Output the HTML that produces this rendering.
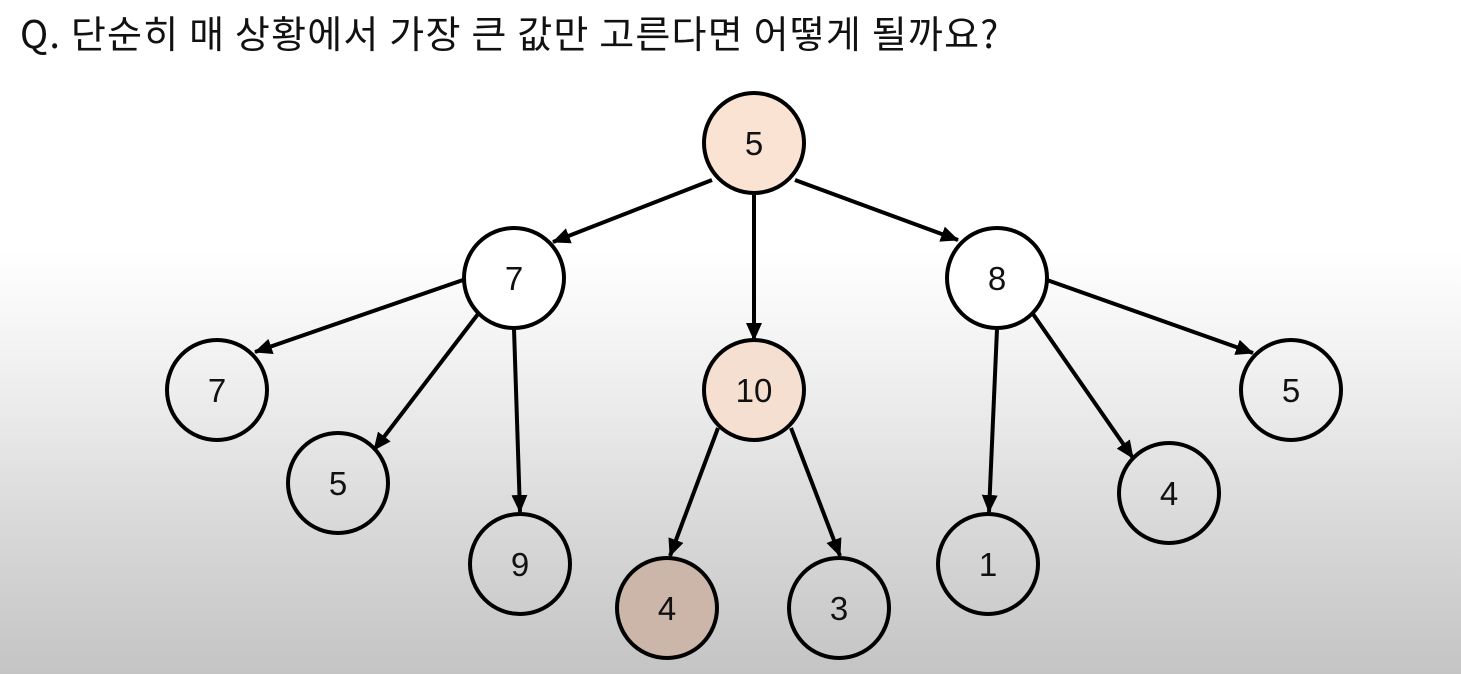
<!DOCTYPE html>
<html><head><meta charset="utf-8"><style>
html,body{margin:0;padding:0}
body{width:1461px;height:674px;overflow:hidden;background:linear-gradient(to bottom,#fff 0px,#fff 250px,#ececec 400px,#d8d8d8 530px,#c4c4c4 674px);font-family:"Liberation Sans","Noto Sans CJK KR",sans-serif}
.t{position:absolute;left:20px;top:4px;font-size:38px;color:#111;font-family:"Noto Sans CJK KR","Liberation Sans",sans-serif;letter-spacing:1.2px;white-space:nowrap}
svg{position:absolute;left:0;top:0}
</style></head><body>
<div class="t">Q. 단순히 매 상황에서 가장 큰 값만 고른다면 어떻게 될까요?</div>
<svg width="1461" height="674" viewBox="0 0 1461 674">
<defs><marker id="a" markerUnits="userSpaceOnUse" markerWidth="18" markerHeight="16" refX="17" refY="8" orient="auto"><path d="M0,0 L18,8 L0,16 z" fill="#000"/></marker></defs>
<g stroke="#000" stroke-width="4" marker-end="url(#a)">
<line x1="712" y1="180" x2="553" y2="242"/>
<line x1="754" y1="195" x2="754" y2="340"/>
<line x1="795" y1="180" x2="958" y2="240"/>
<line x1="463" y1="280" x2="255" y2="352"/>
<line x1="478" y1="314" x2="374" y2="450"/>
<line x1="514" y1="329" x2="520" y2="512"/>
<line x1="718" y1="428" x2="670" y2="556"/>
<line x1="791" y1="428" x2="840" y2="556"/>
<line x1="997" y1="329" x2="989" y2="512"/>
<line x1="1047" y1="280" x2="1253" y2="353"/>
<line x1="1033" y1="314" x2="1133" y2="458"/>
</g>
<g stroke="#000" stroke-width="4" fill="none">
<circle cx="754" cy="143" r="50" fill="#fbe3d4"/>
<circle cx="514" cy="278" r="50" fill="#fff"/>
<circle cx="754" cy="390" r="50" fill="#f5dfd1"/>
<circle cx="997" cy="278" r="50" fill="#fff"/>
<circle cx="217" cy="390" r="50"/>
<circle cx="338" cy="483" r="50"/>
<circle cx="520" cy="564" r="50"/>
<circle cx="667" cy="608" r="50" fill="#cbb6a9"/>
<circle cx="839" cy="608" r="50"/>
<circle cx="988" cy="564" r="50"/>
<circle cx="1169" cy="493" r="50"/>
<circle cx="1291" cy="390" r="50"/>
</g>
<g font-family="Liberation Sans, sans-serif" font-size="33" text-anchor="middle" fill="#111">
<text x="754" y="155">5</text>
<text x="514" y="290">7</text>
<text x="754" y="402">10</text>
<text x="997" y="290">8</text>
<text x="217" y="402">7</text>
<text x="338" y="495">5</text>
<text x="520" y="576">9</text>
<text x="667" y="620">4</text>
<text x="839" y="620">3</text>
<text x="988" y="576">1</text>
<text x="1169" y="505">4</text>
<text x="1291" y="402">5</text>
</g>
</svg>
</body></html>
